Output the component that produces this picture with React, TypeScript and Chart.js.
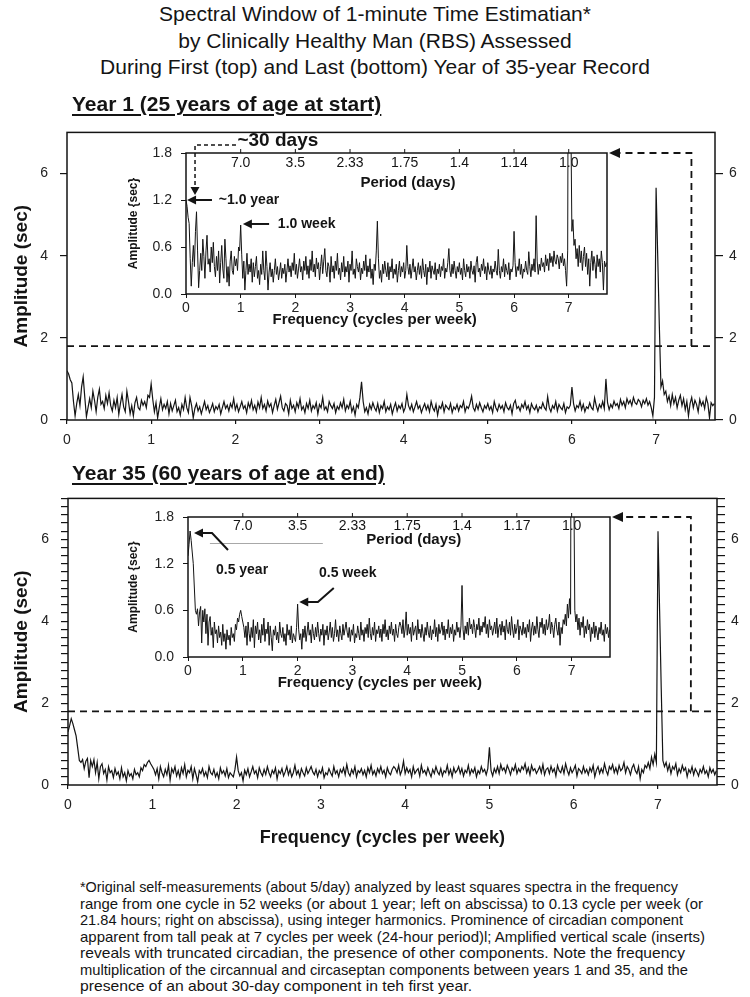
import React, { useEffect, useLayoutEffect, useRef } from 'react';
import { Chart, registerables } from 'chart.js';

Chart.register(...registerables);

const FONT = '"Liberation Sans", Arial, Helvetica, sans-serif';
Chart.defaults.font.family = FONT;

// ---------------- DATA ----------------
// least-squares spectra at integer harmonics; one harmonic = 1/52 cycle per week
const HARMONIC_STEP = 1 / 52;

const YEAR1_AMPLITUDE = [
  1.20, 1.12, 0.98, 0.90, 0.45, 0.10, 0.40, 0.62, 0.35, 0.80,
  1.05, 0.55, 0.08, 0.30, 0.52, 0.30, 0.70, 0.48, 0.20, 0.55,
  0.75, 0.38, 0.45, 0.28, 0.60, 0.40, 0.66, 0.35, 0.22, 0.48,
  0.30, 0.55, 0.14, 0.40, 0.62, 0.32, 0.20, 0.70, 0.45, 0.15,
  0.35, 0.10, 0.42, 0.55, 0.30, 0.25, 0.48, 0.36, 0.45, 0.30,
  0.60, 0.55, 0.88, 0.50, 0.20, 0.42, 0.05, 0.30, 0.52, 0.25,
  0.38, 0.28, 0.45, 0.15, 0.40, 0.22, 0.35, 0.48, 0.20, 0.30,
  0.12, 0.38, 0.25, 0.55, 0.30, 0.18, 0.55, 0.35, 0.05, 0.28,
  0.40, 0.22, 0.32, 0.15, 0.30, 0.45, 0.25, 0.35, 0.18, 0.28,
  0.40, 0.20, 0.33, 0.26, 0.38, 0.15, 0.30, 0.45, 0.28, 0.36,
  0.22, 0.40, 0.30, 0.52, 0.25, 0.38, 0.20, 0.32, 0.45, 0.28,
  0.35, 0.18, 0.42, 0.30, 0.48, 0.25, 0.36, 0.20, 0.44, 0.30,
  0.55, 0.28, 0.38, 0.22, 0.46, 0.32, 0.40, 0.18, 0.35, 0.50,
  0.26, 0.42, 0.58, 0.30, 0.22, 0.40, 0.35, 0.15, 0.48, 0.28,
  0.36, 0.20, 0.42, 0.30, 0.52, 0.25, 0.33, 0.18, 0.40, 0.28,
  0.48, 0.22, 0.35, 0.28, 0.42, 0.15, 0.38, 0.30, 0.55, 0.25,
  0.32, 0.20, 0.45, 0.35, 0.28, 0.40, 0.18, 0.33, 0.26, 0.42,
  0.30, 0.50, 0.22, 0.36, 0.28, 0.45, 0.20, 0.32, 0.12, 0.38,
  0.30, 0.55, 0.93, 0.45, 0.20, 0.30, 0.15, 0.38, 0.26, 0.42,
  0.30, 0.22, 0.40, 0.18, 0.35, 0.28, 0.45, 0.20, 0.32, 0.25,
  0.38, 0.15, 0.30, 0.42, 0.22, 0.35, 0.28, 0.40, 0.20, 0.30,
  0.62, 0.35, 0.25, 0.38, 0.20, 0.32, 0.45, 0.28, 0.35, 0.18,
  0.30, 0.40, 0.25, 0.36, 0.20, 0.45, 0.30, 0.22, 0.38, 0.12,
  0.34, 0.28, 0.42, 0.20, 0.36, 0.30, 0.25, 0.40, 0.18, 0.32,
  0.26, 0.38, 0.22, 0.35, 0.30, 0.45, 0.20, 0.33, 0.28, 0.40,
  0.58, 0.30, 0.22, 0.38, 0.26, 0.42, 0.30, 0.20, 0.35, 0.28,
  0.40, 0.25, 0.33, 0.18, 0.45, 0.30, 0.22, 0.38, 0.28, 0.35,
  0.20, 0.42, 0.30, 0.25, 0.36, 0.15, 0.40, 0.48, 0.28, 0.33,
  0.22, 0.38, 0.30, 0.45, 0.26, 0.35, 0.18, 0.40, 0.30, 0.25,
  0.36, 0.20, 0.32, 0.28, 0.42, 0.30, 0.24, 0.57, 0.30, 0.20,
  0.35, 0.28, 0.45, 0.22, 0.38, 0.30, 0.25, 0.40, 0.18, 0.32,
  0.28, 0.36, 0.80, 0.40, 0.22, 0.35, 0.30, 0.45, 0.25, 0.38,
  0.20, 0.32, 0.28, 0.42, 0.30, 0.25, 0.54, 0.35, 0.22, 0.38,
  0.30, 0.45, 0.28, 1.00, 0.42, 0.25, 0.38, 0.30, 0.46, 0.35,
  0.40, 0.28, 0.50, 0.36, 0.45, 0.30, 0.52, 0.40, 0.48, 0.35,
  0.55, 0.42, 0.38, 0.50, 0.45, 0.32, 0.48, 0.40, 0.52, 0.36,
  0.45, 0.30, 0.10, 0.55, 5.65, 4.00, 2.30, 0.80, 0.95, 0.62,
  0.70, 0.45, 0.58, 0.35, 0.62, 0.40, 0.55, 0.30, 0.48, 0.60,
  0.35, 0.52, 0.25, 0.45, 0.10, 0.40, 0.55, 0.30, 0.48, 0.38,
  0.20, 0.50, 0.35, 0.45, 0.28, 0.55, 0.40, 0.05, 0.42, 0.35,
  0.40,
];

const YEAR35_AMPLITUDE = [
  1.30, 1.45, 1.62, 1.50, 1.35, 1.20, 0.90, 0.60, 0.55, 0.62,
  0.40, 0.58, 0.65, 0.18, 0.60, 0.45, 0.62, 0.30, 0.55, 0.15,
  0.45, 0.52, 0.28, 0.38, 0.12, 0.45, 0.30, 0.35, 0.18, 0.40,
  0.25, 0.32, 0.15, 0.42, 0.20, 0.30, 0.10, 0.35, 0.22, 0.28,
  0.15, 0.38, 0.25, 0.30, 0.20, 0.42, 0.35, 0.50, 0.45, 0.55,
  0.60, 0.52, 0.45, 0.38, 0.25, 0.40, 0.15, 0.45, 0.30, 0.20,
  0.38, 0.25, 0.48, 0.12, 0.40, 0.30, 0.45, 0.22, 0.35, 0.18,
  0.42, 0.28, 0.50, 0.20, 0.36, 0.30, 0.45, 0.15, 0.40, 0.25,
  0.08, 0.35, 0.28, 0.40, 0.22, 0.32, 0.18, 0.45, 0.30, 0.25,
  0.38, 0.20, 0.30, 0.15, 0.42, 0.28, 0.35, 0.22, 0.40, 0.18,
  0.30, 0.25, 0.20, 0.38, 0.68, 0.35, 0.22, 0.30, 0.10, 0.36,
  0.25, 0.40, 0.20, 0.32, 0.45, 0.28, 0.35, 0.18, 0.42, 0.30,
  0.22, 0.38, 0.26, 0.45, 0.30, 0.20, 0.36, 0.28, 0.42, 0.15,
  0.35, 0.28, 0.40, 0.22, 0.32, 0.45, 0.25, 0.38, 0.20, 0.30,
  0.48, 0.26, 0.35, 0.20, 0.40, 0.30, 0.22, 0.42, 0.28, 0.36,
  0.45, 0.32, 0.25, 0.38, 0.20, 0.35, 0.28, 0.42, 0.18, 0.30,
  0.25, 0.40, 0.30, 0.22, 0.45, 0.28, 0.35, 0.20, 0.38, 0.30,
  0.42, 0.25, 0.50, 0.30, 0.22, 0.38, 0.28, 0.45, 0.20, 0.35,
  0.30, 0.40, 0.25, 0.36, 0.20, 0.42, 0.30, 0.48, 0.26, 0.35,
  0.22, 0.40, 0.30, 0.45, 0.28, 0.36, 0.20, 0.42, 0.30, 0.25,
  0.38, 0.45, 0.40, 0.30, 0.48, 0.25, 0.36, 0.58, 0.28, 0.42,
  0.30, 0.38, 0.20, 0.45, 0.28, 0.35, 0.40, 0.22, 0.48, 0.30,
  0.36, 0.25, 0.42, 0.30, 0.20, 0.38, 0.28, 0.45, 0.32, 0.25,
  0.40, 0.22, 0.35, 0.30, 0.48, 0.26, 0.38, 0.20, 0.42, 0.30,
  0.35, 0.45, 0.28, 0.40, 0.22, 0.36, 0.30, 0.48, 0.25, 0.38,
  0.30, 0.42, 0.20, 0.35, 0.28, 0.45, 0.32, 0.38, 0.25, 0.40,
  0.92, 0.35, 0.22, 0.40, 0.30, 0.45, 0.28, 0.50, 0.36, 0.42,
  0.30, 0.48, 0.38, 0.25, 0.42, 0.35, 0.50, 0.28, 0.40, 0.32,
  0.45, 0.38, 0.52, 0.30, 0.42, 0.25, 0.48, 0.35, 0.40, 0.28,
  0.36, 0.45, 0.30, 0.50, 0.25, 0.38, 0.42, 0.28, 0.46, 0.32,
  0.40, 0.22, 0.48, 0.35, 0.30, 0.45, 0.28, 0.52, 0.36, 0.25,
  0.42, 0.30, 0.38, 0.48, 0.22, 0.40, 0.35, 0.28, 0.45, 0.30,
  0.38, 0.25, 0.42, 0.32, 0.48, 0.20, 0.36, 0.45, 0.28, 0.40,
  0.30, 0.52, 0.35, 0.25, 0.45, 0.38, 0.50, 0.30, 0.42, 0.28,
  0.48, 0.35, 0.40, 0.55, 0.30, 0.45, 0.38, 0.25, 0.42, 0.50,
  0.35, 0.28, 0.45, 0.15, 0.38, 0.30, 0.48, 0.42, 0.55, 0.40,
  0.68, 0.50, 0.75, 0.55, 6.20, 4.25, 2.35, 0.60, 0.45, 0.55,
  0.35, 0.50, 0.28, 0.45, 0.38, 0.52, 0.25, 0.40, 0.30, 0.48,
  0.35, 0.42, 0.20, 0.38, 0.30, 0.45, 0.25, 0.40, 0.32, 0.22,
  0.38, 0.30, 0.45, 0.28, 0.35, 0.20, 0.42, 0.30, 0.38, 0.25,
  0.35,
];

const PERIOD_FREQS = [1, 2, 3, 4, 5, 6, 7];
const PERIOD_LABELS_YEAR1 = ['7.0', '3.5', '2.33', '1.75', '1.4', '1.14', '1.0'];
const PERIOD_LABELS_YEAR35 = ['7.0', '3.5', '2.33', '1.75', '1.4', '1.17', '1.0'];

const TITLE_LINES = [
  'Spectral Window of 1-minute Time Estimatian*',
  'by Clinically Healthy Man (RBS) Assessed',
  'During First (top) and Last (bottom) Year of 35-year Record',
];

const FOOTNOTE_LINES = [
  '*Original self-measurements (about 5/day) analyzed by least squares spectra in the frequency',
  'range from one cycle in 52 weeks (or about 1 year; left on abscissa) to 0.13 cycle per week (or',
  '21.84 hours; right on abscissa), using integer harmonics. Prominence of circadian component',
  'apparent from tall peak at 7 cycles per week (24-hour period)l; Amplified vertical scale (inserts)',
  'reveals with truncated circadian, the presence of other components. Note the frequency',
  'multiplication of the circannual and circaseptan components between years 1 and 35, and the',
  'presence of an about 30-day component in teh first year.',
];
const FOOTNOTE_WIDTHS = [598, 623, 603, 625, 605, 608, 392];

// ---------------- LAYOUT ----------------
const TOP_MAIN = { top: 112, height: 345, padTop: 15, leftW: 67, rightW: 35, bottomH: 37, turnFreq: 7.42, yStep: 2, xTitle: false, xTitleFreq: 0, xTitleDy: 0 };
const BOTTOM_MAIN = { top: 478, height: 380, padTop: 14, leftW: 68, rightW: 33, bottomH: 73, turnFreq: 7.39, yStep: 0.2, xTitle: true, xTitleFreq: 3.73, xTitleDy: 53 };
const TOP_INSET = { left: 110, top: 120, width: 510, height: 215, leftW: 76, padRight: 13, padTop: 33, bottomH: 41 };
const BOTTOM_INSET = { left: 110, top: 484, width: 515, height: 215, leftW: 78, padRight: 15, padTop: 33, bottomH: 42 };

// annotations of the inserts (in data units of the insert axes)
const TOP_NOTES = {
  periodY: 1.672,
  texts: [
    { t: '~30 days', x: 1.68, y: 1.953, size: 19, align: 'center' },
    { t: '~1.0 year', x: 0.6, y: 1.2, size: 14, align: 'left' },
    { t: '1.0 week', x: 1.68, y: 0.894, size: 14, align: 'left' },
    { t: 'Period (days)', x: 4.06, y: 1.417, size: 15, align: 'center' },
    { t: 'Frequency (cycles per week)', x: 3.45, y: -0.33, size: 15, align: 'center' },
  ],
  arrows: [
    { pts: [[0.475, 1.2], [0.02, 1.2]], dash: [] as number[], w: 2 },
    { pts: [[1.52, 0.894], [1.04, 0.894]], dash: [] as number[], w: 2 },
    { pts: [[0.914, 1.902], [0.165, 1.902], [0.165, 1.264]], dash: [4, 3], w: 1.5 },
  ],
  grayLines: [] as number[][][],
};
const BOTTOM_NOTES = {
  periodY: 1.678,
  texts: [
    { t: 'Period (days)', x: 4.12, y: 1.511, size: 15, align: 'center' },
    { t: '0.5 year', x: 0.51, y: 1.119, size: 14, align: 'left' },
    { t: '0.5 week', x: 2.39, y: 1.08, size: 14, align: 'left' },
    { t: 'Frequency (cycles per week)', x: 3.5, y: -0.334, size: 15, align: 'center' },
  ],
  arrows: [
    { pts: [[0.73, 1.376], [0.438, 1.594], [0.11, 1.594]], dash: [] as number[], w: 2 },
    { pts: [[2.66, 0.887], [2.37, 0.707], [2.03, 0.707]], dash: [] as number[], w: 2 },
  ],
  grayLines: [[[0.4, 1.459], [2.46, 1.459]]],
};

const INK = '#141414';

function drawArrowHead(ctx: CanvasRenderingContext2D, tx: number, ty: number, fx: number, fy: number, len: number, half: number) {
  const ang = Math.atan2(ty - fy, tx - fx);
  const bx = tx - len * Math.cos(ang);
  const by = ty - len * Math.sin(ang);
  ctx.beginPath();
  ctx.moveTo(tx, ty);
  ctx.lineTo(bx + half * Math.sin(ang), by - half * Math.cos(ang));
  ctx.lineTo(bx - half * Math.sin(ang), by + half * Math.cos(ang));
  ctx.closePath();
  ctx.fill();
}

function toPoints(values: number[]) {
  return values.map((v, i) => ({ x: i * HARMONIC_STEP, y: v }));
}

function evenLabel(v: any) {
  const n = Number(v);
  const r = Math.round(n);
  return Math.abs(n - r) < 1e-6 && r % 2 === 0 ? String(r) : '';
}

function mainConfig(values: number[], L: any, inset: any): any {
  const insetTopPx = inset.top + inset.padTop - L.top;
  const insetRightPx = inset.left + inset.width - inset.padRight;
  const plugin = {
    id: 'mainDeco',
    afterDraw(chart: any) {
      const { ctx, chartArea: a, scales } = chart;
      const x = scales.x, y = scales.y;
      ctx.save();
      ctx.strokeStyle = INK;
      ctx.fillStyle = INK;
      ctx.lineWidth = 1.5;
      ctx.strokeRect(a.left, a.top, a.right - a.left, a.bottom - a.top);
      const yv = y.getPixelForValue(1.8);
      ctx.lineWidth = 1.8;
      ctx.setLineDash([7, 5]);
      ctx.beginPath();
      ctx.moveTo(a.left, yv);
      ctx.lineTo(a.right, yv);
      ctx.stroke();
      const vx = x.getPixelForValue(L.turnFreq);
      ctx.beginPath();
      ctx.moveTo(vx, yv);
      ctx.lineTo(vx, insetTopPx);
      ctx.lineTo(insetRightPx + 11, insetTopPx);
      ctx.stroke();
      ctx.setLineDash([]);
      drawArrowHead(ctx, insetRightPx + 2, insetTopPx, insetRightPx + 20, insetTopPx, 11, 5);
      if (L.xTitle) {
        ctx.font = `bold 18px ${FONT}`;
        ctx.textAlign = 'center';
        ctx.textBaseline = 'middle';
        ctx.fillText('Frequency (cycles per week)', x.getPixelForValue(L.xTitleFreq), a.bottom + L.xTitleDy);
      }
      ctx.restore();
    },
  };
  const tickFont = { family: FONT, size: 14 };
  const yCommon = {
    min: 0,
    max: 7,
    ticks: { stepSize: L.yStep, includeBounds: false, autoSkip: false, color: '#222', font: tickFont, callback: evenLabel },
    border: { display: false },
  };
  return {
    type: 'line',
    data: {
      datasets: [
        { data: toPoints(values), borderColor: INK, borderWidth: 1.2, pointRadius: 0, tension: 0, fill: false },
      ],
    },
    options: {
      animation: false,
      responsive: false,
      maintainAspectRatio: false,
      layout: { padding: { top: L.padTop, left: 0, right: 0, bottom: 0 } },
      plugins: { legend: { display: false }, tooltip: { enabled: false } },
      scales: {
        x: {
          type: 'linear',
          min: 0,
          max: 7.7,
          ticks: { stepSize: 1, includeBounds: false, autoSkip: false, maxRotation: 0, padding: 8, color: '#222', font: tickFont },
          grid: { drawOnChartArea: false, tickLength: 4, color: INK, lineWidth: 1.2 },
          border: { display: false },
          afterFit: (s: any) => { s.height = L.bottomH; },
        },
        y: {
          ...yCommon,
          position: 'left',
          ticks: { ...yCommon.ticks, padding: 12 },
          grid: { drawOnChartArea: false, tickLength: 7, color: INK, lineWidth: 1.2 },
          title: { display: true, text: 'Amplitude (sec)', color: INK, font: { family: FONT, size: 19, weight: 'bold' }, padding: { top: 10, bottom: 0 } },
          afterFit: (s: any) => { s.width = L.leftW; },
        },
        y2: {
          ...yCommon,
          position: 'right',
          ticks: { ...yCommon.ticks, padding: 6 },
          grid: { drawOnChartArea: false, tickLength: 8, color: INK, lineWidth: 1.2 },
          afterFit: (s: any) => { s.width = L.rightW; },
        },
      },
    },
    plugins: [plugin],
  };
}

function insetConfig(values: number[], L: any, periodLabels: string[], notes: any): any {
  const plugin = {
    id: 'insetDeco',
    afterDraw(chart: any) {
      const { ctx, chartArea: a, scales } = chart;
      const x = scales.x, y = scales.y;
      ctx.save();
      ctx.strokeStyle = INK;
      ctx.fillStyle = INK;
      ctx.lineWidth = 1.5;
      ctx.strokeRect(a.left, a.top, a.right - a.left, a.bottom - a.top);
      // period axis ticks + labels
      ctx.lineWidth = 1;
      ctx.font = `14px ${FONT}`;
      ctx.textAlign = 'center';
      ctx.textBaseline = 'middle';
      PERIOD_FREQS.forEach((f, i) => {
        const px = x.getPixelForValue(f);
        ctx.beginPath();
        ctx.moveTo(px, a.top);
        ctx.lineTo(px, a.top - 4);
        ctx.stroke();
        ctx.fillText(periodLabels[i], px, y.getPixelForValue(notes.periodY));
      });
      // gray guide lines
      notes.grayLines.forEach((ln: number[][]) => {
        ctx.strokeStyle = '#a8a8a8';
        ctx.lineWidth = 1.2;
        ctx.beginPath();
        ln.forEach((p, j) => {
          const px = x.getPixelForValue(p[0]);
          const py = y.getPixelForValue(p[1]);
          if (j === 0) ctx.moveTo(px, py); else ctx.lineTo(px, py);
        });
        ctx.stroke();
      });
      ctx.strokeStyle = INK;
      // arrows
      notes.arrows.forEach((ar: any) => {
        const pts = ar.pts.map((p: number[]) => [x.getPixelForValue(p[0]), y.getPixelForValue(p[1])]);
        const n = pts.length;
        const [tx, ty] = pts[n - 1];
        const [fx, fy] = pts[n - 2];
        const len = ar.dash.length ? 8 : 9;
        const ang = Math.atan2(ty - fy, tx - fx);
        ctx.lineWidth = ar.w;
        ctx.setLineDash(ar.dash);
        ctx.beginPath();
        ctx.moveTo(pts[0][0], pts[0][1]);
        for (let j = 1; j < n - 1; j++) ctx.lineTo(pts[j][0], pts[j][1]);
        ctx.lineTo(tx - (len - 1) * Math.cos(ang), ty - (len - 1) * Math.sin(ang));
        ctx.stroke();
        ctx.setLineDash([]);
        drawArrowHead(ctx, tx, ty, fx, fy, len, 4.5);
      });
      // texts
      notes.texts.forEach((tx: any) => {
        ctx.font = `bold ${tx.size}px ${FONT}`;
        ctx.textAlign = tx.align;
        ctx.textBaseline = 'middle';
        ctx.fillText(tx.t, x.getPixelForValue(tx.x), y.getPixelForValue(tx.y));
      });
      ctx.restore();
    },
  };
  const tickFont = { family: FONT, size: 14 };
  return {
    type: 'line',
    data: {
      datasets: [
        { data: toPoints(values), borderColor: INK, borderWidth: 1, pointRadius: 0, tension: 0, fill: false },
      ],
    },
    options: {
      animation: false,
      responsive: false,
      maintainAspectRatio: false,
      layout: { padding: { top: L.padTop, left: 0, right: L.padRight, bottom: 0 } },
      plugins: { legend: { display: false }, tooltip: { enabled: false } },
      scales: {
        x: {
          type: 'linear',
          min: 0,
          max: 7.7,
          ticks: { stepSize: 1, includeBounds: false, autoSkip: false, maxRotation: 0, padding: 2, color: '#222', font: tickFont },
          grid: { drawOnChartArea: false, tickLength: 4, color: INK, lineWidth: 1 },
          border: { display: false },
          afterFit: (s: any) => { s.height = L.bottomH; },
        },
        y: {
          min: 0,
          max: 1.8,
          position: 'left',
          ticks: { stepSize: 0.6, includeBounds: false, autoSkip: false, padding: 9, color: '#222', font: tickFont, callback: (v: any) => Number(v).toFixed(1) },
          grid: { drawOnChartArea: false, tickLength: 5, color: INK, lineWidth: 1 },
          border: { display: false },
          title: { display: true, text: 'Amplitude {sec}', color: INK, font: { family: FONT, size: 12, weight: 'bold' }, padding: { top: 16, bottom: 0 } },
          afterFit: (s: any) => { s.width = L.leftW; },
        },
      },
    },
    plugins: [plugin],
  };
}

function ChartBox(props: { left: number; top: number; width: number; height: number; build: () => any }) {
  const ref = useRef<HTMLCanvasElement>(null);
  useEffect(() => {
    const chart = new Chart(ref.current as HTMLCanvasElement, props.build());
    return () => chart.destroy();
  }, []);
  return (
    <canvas
      ref={ref}
      width={props.width}
      height={props.height}
      style={{ position: 'absolute', left: props.left, top: props.top, width: props.width, height: props.height }}
    />
  );
}

function FitLine(props: { text: string; width: number; style: React.CSSProperties }) {
  const ref = useRef<HTMLSpanElement>(null);
  useLayoutEffect(() => {
    const el = ref.current;
    if (!el) return;
    el.style.transform = 'none';
    const w = el.getBoundingClientRect().width;
    if (w > 0) el.style.transform = `scaleX(${props.width / w})`;
  }, [props.text, props.width]);
  return (
    <span ref={ref} style={{ display: 'inline-block', whiteSpace: 'nowrap', transformOrigin: '0 0', ...props.style }}>
      {props.text}
    </span>
  );
}

export default function App() {
  return (
    <div
      style={{
        position: 'absolute',
        left: 0,
        top: 0,
        width: 750,
        height: 997,
        background: '#fff',
        fontFamily: FONT,
        color: INK,
        overflow: 'hidden',
      }}
    >
      {TITLE_LINES.map((t, i) => (
        <div
          key={i}
          style={{ position: 'absolute', left: 0, width: 750, top: 1 + i * 26.5, height: 26, lineHeight: '26px', fontSize: 21, textAlign: 'center', whiteSpace: 'nowrap' }}
        >
          {t}
        </div>
      ))}

      <ChartBox left={0} top={TOP_MAIN.top} width={750} height={TOP_MAIN.height} build={() => mainConfig(YEAR1_AMPLITUDE, TOP_MAIN, TOP_INSET)} />
      <ChartBox left={0} top={BOTTOM_MAIN.top} width={750} height={BOTTOM_MAIN.height} build={() => mainConfig(YEAR35_AMPLITUDE, BOTTOM_MAIN, BOTTOM_INSET)} />
      <ChartBox left={TOP_INSET.left} top={TOP_INSET.top} width={TOP_INSET.width} height={TOP_INSET.height} build={() => insetConfig(YEAR1_AMPLITUDE, TOP_INSET, PERIOD_LABELS_YEAR1, TOP_NOTES)} />
      <ChartBox left={BOTTOM_INSET.left} top={BOTTOM_INSET.top} width={BOTTOM_INSET.width} height={BOTTOM_INSET.height} build={() => insetConfig(YEAR35_AMPLITUDE, BOTTOM_INSET, PERIOD_LABELS_YEAR35, BOTTOM_NOTES)} />

      <div style={{ position: 'absolute', left: 72, top: 92, lineHeight: '24px', fontSize: 21, fontWeight: 'bold', textDecoration: 'underline', textUnderlineOffset: 3, whiteSpace: 'nowrap' }}>
        Year 1 (25 years of age at start)
      </div>
      <div style={{ position: 'absolute', left: 72, top: 461, lineHeight: '24px', fontSize: 21, fontWeight: 'bold', textDecoration: 'underline', textUnderlineOffset: 3, whiteSpace: 'nowrap' }}>
        Year 35 (60 years of age at end)
      </div>

      {FOOTNOTE_LINES.map((t, i) => (
        <div key={i} style={{ position: 'absolute', left: 80, top: 878 + i * 16.5, height: 17, lineHeight: '17px', whiteSpace: 'nowrap' }}>
          <FitLine text={t} width={FOOTNOTE_WIDTHS[i]} style={{ fontSize: 15 }} />
        </div>
      ))}
    </div>
  );
}
